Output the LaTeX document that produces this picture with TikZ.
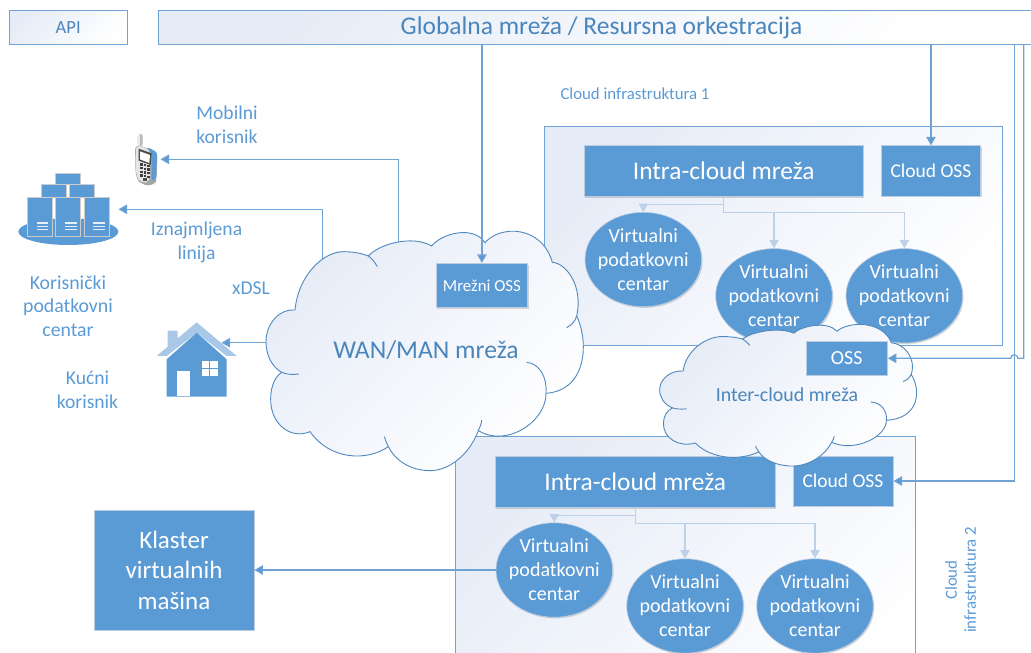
\documentclass[tikz,border=0pt]{standalone}
\usepackage{fontspec}
\setmainfont{Carlito}
\usetikzlibrary{arrows.meta,shapes.geometric,shadows,calc}
\definecolor{bluefill}{HTML}{5B9BD5}
\definecolor{lblue}{HTML}{BDD0E9}
\definecolor{edgeblue}{HTML}{6FA3D6}
\definecolor{cloudline}{HTML}{4F88BE}
\definecolor{darktext}{HTML}{4A85BC}
\definecolor{gradstart}{HTML}{E6ECF7}
\definecolor{softedge}{HTML}{BCCDE0}
\definecolor{roof}{HTML}{A9C7E6}
\newcommand{\fs}[2]{\fontsize{#1}{#2}\selectfont}
\newcommand{\cloudoutline}{(105,270) .. controls (115,165) and (190,95) .. (250,95) .. controls (280,95) and (305,100) .. (325,108)
 .. controls (360,70) and (460,45) .. (515,78)
 .. controls (545,40) and (640,15) .. (675,68)
 .. controls (720,15) and (845,15) .. (877,127)
 .. controls (920,130) and (970,200) .. (950,288)
 .. controls (985,360) and (985,510) .. (858,520)
 .. controls (860,600) and (745,685) .. (655,632)
 .. controls (630,700) and (570,752) .. (510,752) .. controls (450,752) and (405,720) .. (385,680)
 .. controls (320,725) and (210,720) .. (150,635)
 .. controls (90,660) and (30,610) .. (32,535) .. controls (32,500) and (45,470) .. (65,457)
 .. controls (35,440) and (18,405) .. (18,365) .. controls (18,310) and (60,265) .. (105,270) -- cycle}
\newcommand{\cloudstubs}{(325,108) .. controls (335,115) and (345,127) .. (352,140)
 (65,457) .. controls (80,464) and (100,464) .. (117,462)
 (373,650) .. controls (376,660) and (380,670) .. (385,680)
 (665,600) .. controls (664,612) and (660,622) .. (655,632)
 (800,427) .. controls (840,430) and (862,475) .. (858,520)
 (950,288) .. controls (945,305) and (935,315) .. (920,323)}
\tikzset{
  gradfill/.style={left color=gradstart,right color=white,shading angle=45},
  framebox/.style={rectangle,draw=edgeblue,line width=1pt,gradfill,inner sep=0pt},
  softshadow/.style={drop shadow={shadow xshift=1pt,shadow yshift=-1.2pt,opacity=.22,fill=black!70}},
  bluebox/.style={rectangle,fill=bluefill,draw=softedge,line width=.8pt,text=white,inner sep=0pt,align=center,softshadow},
  vdc/.style={ellipse,fill=bluefill,draw=softedge,line width=.6pt,text=white,inner sep=-8pt,align=center,
    minimum width=116.6pt,minimum height=94.4pt,font=\fs{20}{24},softshadow},
  arr/.style={draw=edgeblue,line width=1.2pt,-{Triangle[length=8.5pt,width=9.5pt,fill=bluefill]}},
  lightarr/.style={draw=lblue,line width=1.3pt,-{Triangle[length=8.5pt,width=9.5pt,fill=lblue]}},
  wire/.style={draw=edgeblue,line width=1.2pt},
  label/.style={text=bluefill,align=center,inner sep=0pt},
  cloudfill/.style={gradfill},
  cloudstroke/.style={draw=cloudline,line width=.9pt},
}
\begin{document}
\begin{tikzpicture}[x=1pt,y=-1pt]
\useasboundingbox (0,0) rectangle (1031,653);
\clip (0,0) rectangle (1031,653);
% top boxes
\node[framebox,minimum width=117.7pt,minimum height=34.4pt,text=darktext,font=\fs{18.5}{20}] (api) at (68.2,27.5) {API};
\node[framebox,minimum width=900pt,minimum height=34.4pt] (orch) at (608.3,27.5) {};
\node[text=darktext,inner sep=0pt,font=\fs{25.5}{28}] (orchtext) at (601.5,28) {Globalna mreža / Resursna orkestracija};
\node[label,font=\fs{16.8}{19}] (cinf1) at (635,94) {Cloud infrastruktura 1};
% infrastructure frames
\node[framebox,minimum width=458pt,minimum height=219.3pt] (frame1) at (773.7,236.3) {};
\node[framebox,minimum width=460pt,minimum height=300pt] (frame2) at (455.5+230,436.8+150) {};
% cloud 1 content
\node[bluebox,minimum width=279pt,minimum height=51pt,font=\fs{25.4}{28}] (intra1) at (723.8,171.2) {Intra-cloud mreža};
\node[bluebox,minimum width=99.4pt,minimum height=50.5pt,font=\fs{19.5}{22}] (coss1) at (931,171) {Cloud OSS};
\node[vdc] (v11) at (643.3,259.5) {Virtualni\\podatkovni\\centar};
\node[vdc] (v12) at (774,295.8) {Virtualni\\podatkovni\\centar};
\node[vdc] (v13) at (904.3,295.8) {Virtualni\\podatkovni\\centar};
\draw[lightarr] (intra1.south) -- ++(0,7.6) -| (v11.north);
\draw[lightarr] (intra1.south) -- ++(0,15.3) -| (v12.north);
\draw[lightarr] (intra1.south) -- ++(0,15.3) -| (v13.north);
% cloud 2 content
\node[bluebox,minimum width=279.7pt,minimum height=51pt,font=\fs{25.4}{28}] (intra2) at (635.2,482) {Intra-cloud mreža};
\node[bluebox,minimum width=100.2pt,minimum height=50pt,font=\fs{19.5}{22}] (coss2) at (843,481) {Cloud OSS};
\node[vdc] (v21) at (554.3,570) {Virtualni\\podatkovni\\centar};
\node[vdc] (v22) at (685,606) {Virtualni\\podatkovni\\centar};
\node[vdc] (v23) at (815,606) {Virtualni\\podatkovni\\centar};
\draw[lightarr] (intra2.south) -- ++(0,7.6) -| (v21.north);
\draw[lightarr] (intra2.south) -- ++(0,15.3) -| (v22.north);
\draw[lightarr] (intra2.south) -- ++(0,15.3) -| (v23.north);
\node[label,rotate=90,font=\fs{16.8}{19}] (cinf2) at (960.5,580) {Cloud\\infrastruktura 2};
% klaster
\node[bluebox,minimum width=160pt,minimum height=120pt,font=\fs{25}{30.5}] (klaster) at (174,570) {Klaster\\virtualnih\\mašina};
\draw[arr] (v21.west) -- (klaster.east);
% anchor points
\coordinate (rA) at (1014.3,100);
\coordinate (rB) at (1023.7,100);
\coordinate (phonept) at (160.5,159.3);
\coordinate (srvpt) at (118.5,209.3);
\coordinate (housept) at (221.5,342.7);
\coordinate (wanA) at (398.3,250);
\coordinate (wanB) at (322.3,270);
\coordinate (wanC) at (272,342.7);
\coordinate (hopR) at (1017.9,358.3);
\coordinate (hopL) at (1010.7,358.3);
% phone
\begin{scope}[shift={(100,120)},xscale=1/3,yscale=1/3]
\fill[gray!55,rounded corners=2pt] (113,42) rectangle (128,78);
\fill[gray!15] (113,42) rectangle (119,78);
\fill[black!35,rounded corners=6pt] (105,72) -- (172,95) -- (170,180) -- (162,197) -- (125,195) -- (107,172) -- cycle;
\fill[black!10,rounded corners=5pt] (107,74) -- (150,88) -- (150,185) -- (125,190) -- (109,170) -- cycle;
\fill[bluefill,rounded corners=3pt] (140,80) -- (172,97) -- (168,178) -- (155,185) -- (155,100) -- cycle;
\fill[black!70] (116,86) -- (155,100) -- (152,135) -- (116,122) -- cycle;
\fill[white] (120,94) -- (150,105) -- (148,129) -- (120,118) -- cycle;
\foreach \r in {0,1,2,3}\foreach \c in {0,1,2}{\fill[black!75] (120+\c*11,130+\r*11+\c*2) rectangle ++(8,7);}
\fill[black!70] (128,175) rectangle (142,182);
\end{scope}
% servers
\begin{scope}[shift={(10,165)},xscale=1/3,yscale=1/3]
\fill[bluefill] (175,200) ellipse [x radius=150,y radius=40];
\foreach \xa/\ya/\xb/\yb in {137/25/212/57,95/58/170/96,179/58/254/96,52/97/127/215,137/97/212/215,222/97/297/215}{
  \filldraw[fill=bluefill,draw=black!20,line width=.9pt] (\xa,\ya) rectangle (\xb,\yb);}
\foreach \xa in {80,165,250}{\foreach \ya in {172,182,192}{
  \fill[white!85!bluefill] (\xa,\ya) rectangle ++(35,4);}}
\end{scope}
% house
\begin{scope}[shift={(0,90)},xscale=1/3,yscale=1/3]
\fill[roof] (503,722) -- (533,722) -- (533,745) -- (590,697) -- (710,798) -- (680,798) -- (590,728) -- (500,798) -- (470,798) -- (503,770) -- cycle;
\fill[bluefill] (590,728) -- (680,808) -- (680,920) -- (500,920) -- (500,808) -- cycle;
\fill[white] (532,843) rectangle (570,917);
\fill[white] (607,812) rectangle (653,858);
\draw[bluefill,line width=1pt] (630,812) -- (630,858) (607,835) -- (653,835);
\end{scope}
% connectors to the clients
\draw[arr] (wanA) |- (phonept);
\draw[arr] (wanB) |- (srvpt);
\draw[arr] (wanC) -- (housept);
% orchestration wires
\draw[wire] (orch.south -| rA) -- (rA);
\draw[arr] (rA) |- (coss2.east);
\draw[arr] (orch.south -| coss1.north) -- (coss1.north);
% clouds
\begin{scope}[shift={(260,220)},xscale=1/3,yscale=1/3]
\path[cloudfill] \cloudoutline;
\path[cloudstroke] \cloudoutline;
\path[cloudstroke] \cloudstubs;
\end{scope}
\begin{scope}[shift={(654.8,317.8)},xscale=.2699,yscale=.1971]
\path[cloudfill] \cloudoutline;
\path[cloudstroke] \cloudoutline;
\path[cloudstroke] \cloudstubs;
\end{scope}
\node[text=darktext,inner sep=0pt,font=\fs{25.6}{28}] (wantext) at (426,350) {WAN/MAN mreža};
\node[text=darktext,inner sep=0pt,font=\fs{19.9}{22}] (intertext) at (787,395) {Inter-cloud mreža};
\node[bluebox,minimum width=91.7pt,minimum height=44pt,font=\fs{16.8}{19}] (moss) at (481.9,285.3) {Mrežni OSS};
\node[bluebox,minimum width=81.5pt,minimum height=33.5pt,font=\fs{20}{22}] (oss) at (846.7,358.3) {OSS};
\draw[arr] (orch.south -| moss.north) -- (moss.north);
\draw[arr] (orch.south -| rB) -- (rB) -- ($(rB |- hopR)$) -- (hopR) arc[start angle=0,end angle=180,radius=3.6pt] -- (oss.east);
% labels
\node[label,font=\fs{19.6}{24}] (mob) at (227,125) {Mobilni\\korisnik};
\node[label,font=\fs{19.6}{24}] (izn) at (196.5,242) {Iznajmljena\\linija};
\node[label,font=\fs{19.6}{24}] (xdsl) at (251,288) {xDSL};
\node[label,font=\fs{19.8}{23.7}] (kpc) at (68,306) {Korisnički\\podatkovni\\centar};
\node[label,font=\fs{19.6}{24}] (kuc) at (87.5,390) {Kućni\\korisnik};
\end{tikzpicture}
\end{document}
